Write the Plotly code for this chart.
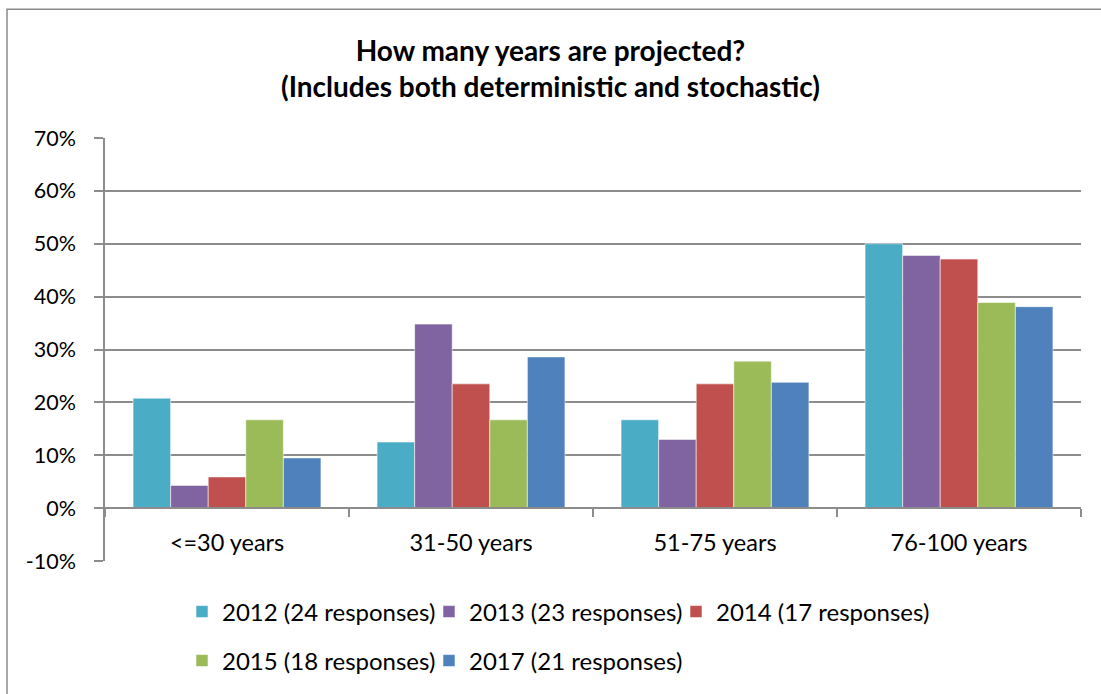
import plotly.graph_objects as go

categories = ["<=30 years", "31-50 years", "51-75 years", "76-100 years"]
series_names = [
    "2012 (24 responses)",
    "2013 (23 responses)",
    "2014 (17 responses)",
    "2015 (18 responses)",
    "2017 (21 responses)",
]
values_2012 = [0.208, 0.125, 0.167, 0.500]
values_2013 = [0.043, 0.348, 0.130, 0.478]
values_2014 = [0.059, 0.235, 0.235, 0.471]
values_2015 = [0.167, 0.167, 0.278, 0.389]
values_2017 = [0.095, 0.286, 0.238, 0.381]
series_colors = ["#4BACC6", "#8064A2", "#C0504D", "#9BBB59", "#4F81BD"]
tick_vals = [-0.1, 0.0, 0.1, 0.2, 0.3, 0.4, 0.5, 0.6, 0.7]
tick_labels = ["-10%", "0%", "10%", "20%", "30%", "40%", "50%", "60%", "70%"]

all_values = [values_2012, values_2013, values_2014, values_2015, values_2017]

FONT = "Lato"
GRID = "#8C8C8C"

W, H = 1101, 694
L, R, T, B = 105, 20, 138, 132
pw = W - L - R
ph = H - T - B

def px_x(p):
    return (p - L) / pw

def px_y(p):
    return (H - B - p) / ph

# legend slots (screen px of each entry's left edge and row centre)
legend_slots = [(182, 612), (429, 612), (676, 612), (182, 661), (429, 661)]
legend_ids = ["legend", "legend2", "legend3", "legend4", "legend5"]

fig = go.Figure()
for name, vals, col, lg in zip(series_names, all_values, series_colors, legend_ids):
    fig.add_trace(go.Bar(
        x=categories, y=vals, name=name, showlegend=True,
        marker=dict(color=col, line=dict(color="rgba(255,255,255,0.55)", width=1)),
        legend=lg,
    ))

legend_layouts = {}
for lg, (lx, ly) in zip(legend_ids, legend_slots):
    legend_layouts[lg] = dict(
        orientation="h", x=px_x(lx), xanchor="left", xref="paper",
        y=px_y(ly), yanchor="middle", yref="paper",
        font=dict(family=FONT, size=24, color="black"),
        bgcolor="rgba(0,0,0,0)", visible=True,
    )

fig.update_layout(
    width=W, height=H,
    margin=dict(l=L, r=R, t=T, b=B, pad=0),
    paper_bgcolor="white", plot_bgcolor="white",
    font=dict(family=FONT, color="black"),
    showlegend=True,
    barmode="group", bargap=0.23, bargroupgap=0,
    title=dict(
        text="<b>How many years are projected?</b><br><b>(Includes both deterministic and stochastic)</b>",
        x=0.5, xref="container", xanchor="center",
        y=1 - 61 / H, yref="container", yanchor="middle",
        font=dict(family=FONT, size=28, color="black"),
    ),
    xaxis=dict(
        type="category", categoryorder="array", categoryarray=categories,
        anchor="free", position=px_y(509),
        showline=True, linecolor=GRID, linewidth=1.5,
        ticks="outside", tickson="boundaries", ticklen=8, tickcolor=GRID, tickwidth=1.5,
        showgrid=False, tickfont=dict(family=FONT, size=23.5, color="black"),
        ticklabelstandoff=14,
    ),
    yaxis=dict(
        range=[-0.1, 0.7], tickvals=tick_vals, ticktext=tick_labels,
        showgrid=True, gridcolor=GRID, gridwidth=1.5,
        ticks="outside", ticklen=9, tickcolor=GRID, tickwidth=1.5,
        showline=True, linecolor=GRID, linewidth=1.5,
        zeroline=False, tickfont=dict(family=FONT, size=21.5, color="black"),
        ticklabelstandoff=14,
    ),
    shapes=[dict(
        type="rect", xref="paper", yref="paper", layer="below",
        x0=px_x(7), x1=px_x(1120), y0=px_y(720), y1=px_y(9),
        line=dict(color="#8A8A8A", width=1.5), fillcolor="rgba(0,0,0,0)",
    )],
    **legend_layouts,
)

fig.write_html(
    "out.html",
    config={"displayModeBar": False},
    post_script="document.body.style.margin='0';",
)
